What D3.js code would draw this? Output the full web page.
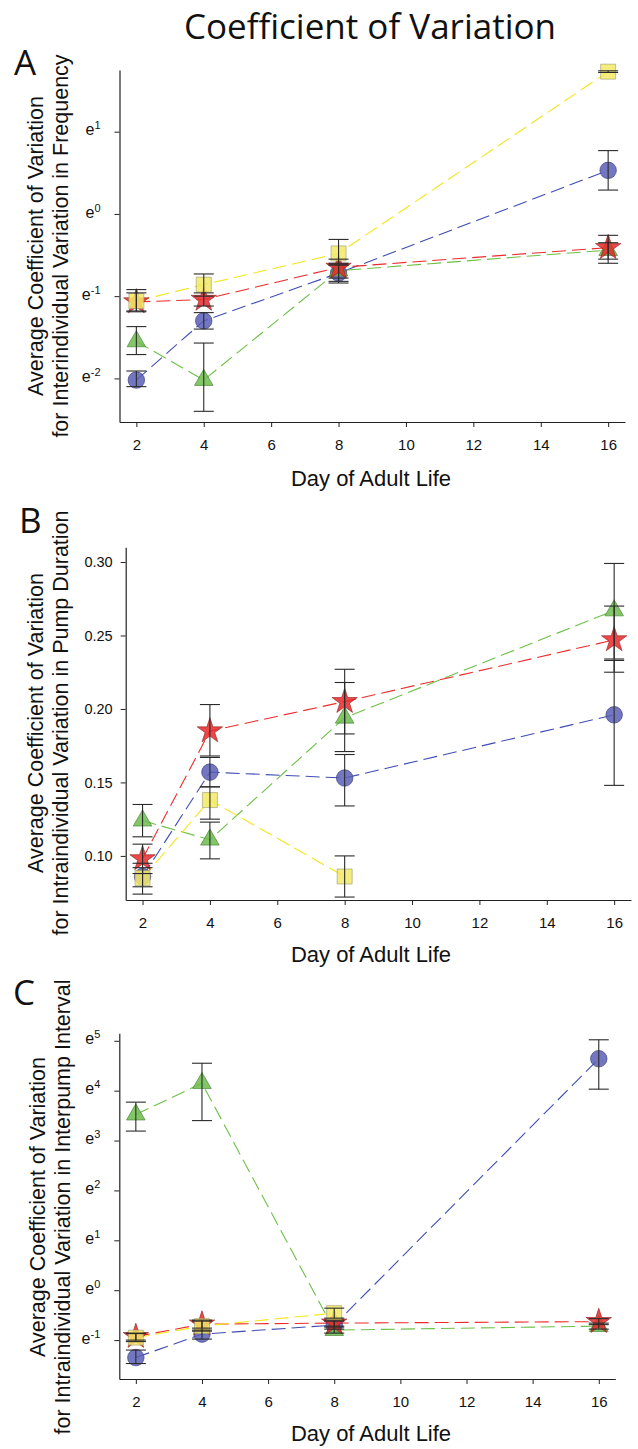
<!DOCTYPE html>
<html><head><meta charset="utf-8">
<script src="https://cdn.jsdelivr.net/npm/d3@7"></script>
<style>body{margin:0;background:#fff}svg{display:block}</style>
</head><body>
<svg id="chart" width="638" height="1449"></svg>
<script>
// ---------- DATA ----------
const days = [2, 4, 8, 16];
const xTicks = [2, 4, 6, 8, 10, 12, 14, 16];

// Panel A: ln(average CV) of interindividual variation in frequency
const aTickExp = [-2, -1, 0, 1];
const aBlue = [-2.02, -1.30, -0.72, 0.53];
const aBlueLo = [-2.10, -1.40, -0.84, 0.29];
const aBlueHi = [-1.91, -1.20, -0.62, 0.77];
const aGreen = [-1.55, -2.02, -0.69, -0.44];
const aGreenLo = [-1.71, -2.40, -0.82, -0.55];
const aGreenHi = [-1.37, -1.57, -0.60, -0.35];
const aRed = [-1.07, -1.04, -0.65, -0.41];
const aRedLo = [-1.18, -1.12, -0.78, -0.60];
const aRedHi = [-0.96, -0.96, -0.55, -0.26];
const aYellow = [-1.06, -0.86, -0.48, 1.73];
const aYellowLo = [-1.19, -1.00, -0.62, 1.72];
const aYellowHi = [-0.92, -0.73, -0.31, 1.74];

// Panel B: average CV of intraindividual variation in pump duration
const bTicks = [0.10, 0.15, 0.20, 0.25, 0.30];
const bBlue = [0.086, 0.157, 0.153, 0.196];
const bBlueLo = [0.079, 0.147, 0.134, 0.148];
const bBlueHi = [0.092, 0.167, 0.169, 0.233];
const bGreen = [0.124, 0.111, 0.194, 0.267];
const bGreenLo = [0.113, 0.098, 0.171, 0.234];
const bGreenHi = [0.135, 0.123, 0.218, 0.299];
const bRed = [0.098, 0.185, 0.205, 0.247];
const bRedLo = [0.088, 0.168, 0.183, 0.225];
const bRedHi = [0.108, 0.203, 0.227, 0.270];
const bYellow = [0.085, 0.138, 0.086];
const bYellowLo = [0.074, 0.125, 0.072];
const bYellowHi = [0.095, 0.147, 0.100];

// Panel C: ln(average CV) of intraindividual variation in interpump interval
const cTickExp = [-1, 0, 1, 2, 3, 4, 5];
const cBlue = [-1.35, -0.88, -0.70, 4.64];
const cBlueLo = [-1.47, -0.98, -0.78, 4.03];
const cBlueHi = [-1.20, -0.80, -0.62, 5.02];
const cGreen = [3.52, 4.15, -0.80, -0.72];
const cGreenLo = [3.19, 3.40, -0.86, -0.78];
const cGreenHi = [3.77, 4.55, -0.74, -0.66];
const cRed = [-0.93, -0.68, -0.66, -0.63];
const cRedLo = [-1.00, -0.76, -0.72, -0.69];
const cRedHi = [-0.86, -0.60, -0.60, -0.57];
const cYellow = [-0.95, -0.72, -0.46];
const cYellowLo = [-1.03, -0.82, -0.56];
const cYellowHi = [-0.87, -0.62, -0.36];

// ---------- STYLE ----------
const styles = {
  blue:   {line: "#3f4db3", fill: "#5a5eb5", stroke: "#33377a", shape: d3.symbolCircle, size: 215},
  green:  {line: "#6cc046", fill: "#6cbc4c", stroke: "#3c7d2c", shape: d3.symbolTriangle, size: 150},
  red:    {line: "#ee2b2b", fill: "#e8282a", stroke: "#8e1c1c", shape: d3.symbolStar, size: 200},
  yellow: {line: "#f3e61a", fill: "#f2ea66", stroke: "#9c9a6a", shape: d3.symbolSquare, size: 225}
};

const svg = d3.select("#chart");
const font = "'Liberation Sans', Arial, sans-serif";

svg.append("text").attr("x", 370).attr("y", 39).attr("text-anchor", "middle")
  .attr("font-family", "'Open Sans', 'Noto Sans', sans-serif").attr("font-size", 35)
  .attr("fill", "#111").text("Coefficient of Variation");

function panel(cfg) {
  const g = svg.append("g");
  const x = d3.scaleLinear().domain([1.5, 16.5]).range([cfg.left, cfg.right]);
  const y = d3.scaleLinear().domain(cfg.yDomain).range([cfg.bottom, cfg.top]);

  // axes
  const xa = g.append("g").attr("transform", `translate(0,${cfg.bottom})`)
    .call(d3.axisBottom(x).tickValues(xTicks).tickSize(5).tickSizeOuter(0).tickPadding(12));
  xa.selectAll("text").attr("font-family", font).attr("font-size", 15).attr("fill", "#111");
  const ya = g.append("g").attr("transform", `translate(${cfg.left},0)`)
    .call(d3.axisLeft(y).tickValues(cfg.yTicks).tickSize(5).tickSizeOuter(0).tickPadding(8)
      .tickFormat(cfg.exp ? () => "" : d3.format(".2f")));
  ya.selectAll("text").attr("font-family", font).attr("font-size", 14.5).attr("fill", "#111");
  [xa, ya].forEach(a => { a.select(".domain").attr("stroke", "#222").attr("stroke-width", 1.2);
                         a.selectAll(".tick line").attr("stroke", "#222"); });
  if (cfg.exp) {
    ya.selectAll(".tick").each(function(d) {
      const t = d3.select(this).append("text").attr("x", -19).attr("dy", "0.32em")
        .attr("text-anchor", "end").attr("font-family", font).attr("fill", "#111");
      t.append("tspan").attr("font-size", 16).text("e");
      t.append("tspan").attr("font-size", 11).attr("dy", "-0.55em").text(d);
    });
  }

  // labels
  g.append("text").attr("x", cfg.letterX).attr("y", cfg.letterY)
    .attr("font-family", "'Open Sans', 'Noto Sans', sans-serif").attr("font-size", 35).attr("fill", "#111").text(cfg.letter);
  g.append("text").attr("x", 371).attr("y", cfg.xLabelY).attr("text-anchor", "middle")
    .attr("font-family", font).attr("font-size", 22).attr("fill", "#111").text("Day of Adult Life");
  const lab = g.append("text").attr("transform", `translate(${cfg.yLabX},${cfg.yLabCY}) rotate(-90)`)
    .attr("text-anchor", "middle").attr("font-family", font).attr("font-size", 21.5).attr("fill", "#111");
  lab.append("tspan").attr("x", 0).attr("y", 0).text("Average Coefficient of Variation");
  lab.append("tspan").attr("x", 0).attr("y", 25).text(cfg.yLabel2);

  const rows = cfg.series.map(s => ({
    key: s.key,
    pts: s.mean.map((v, i) => ({d: days[i], v, lo: s.lo[i], hi: s.hi[i]}))
  }));
  const line = d3.line().x(p => x(p.d)).y(p => y(p.v));

  rows.forEach(r => {
    g.append("path").attr("d", line(r.pts)).attr("fill", "none")
      .attr("stroke", styles[r.key].line).attr("stroke-width", 1.1).attr("stroke-dasharray", "14,6");
  });
  rows.forEach(r => {
    const st = styles[r.key];
    g.selectAll(null).data(r.pts).enter().append("path")
      .attr("transform", p => `translate(${x(p.d)},${y(p.v)})`)
      .attr("d", d3.symbol().type(st.shape).size(st.size))
      .attr("fill", st.fill).attr("fill-opacity", 0.85)
      .attr("stroke", st.stroke).attr("stroke-opacity", 0.6).attr("stroke-width", 1);
  });
  rows.forEach(r => {
    const eb = g.selectAll(null).data(r.pts).enter().append("g").attr("stroke", "#2a2a2a").attr("stroke-width", 1.1);
    eb.append("line").attr("x1", p => x(p.d)).attr("x2", p => x(p.d)).attr("y1", p => y(p.lo)).attr("y2", p => y(p.hi));
    eb.append("line").attr("x1", p => x(p.d) - 10).attr("x2", p => x(p.d) + 10).attr("y1", p => y(p.lo)).attr("y2", p => y(p.lo));
    eb.append("line").attr("x1", p => x(p.d) - 10).attr("x2", p => x(p.d) + 10).attr("y1", p => y(p.hi)).attr("y2", p => y(p.hi));
  });
}

panel({
  left: 119.5, right: 625, top: 70, bottom: 422, yDomain: [-2.53, 1.75], yTicks: aTickExp, exp: true,
  letter: "A", letterX: 14, letterY: 75, xLabelY: 486, yLabX: 43, yLabCY: 246,
  yLabel2: "for Interindividual Variation in Frequency",
  series: [
    {key: "blue", mean: aBlue, lo: aBlueLo, hi: aBlueHi},
    {key: "green", mean: aGreen, lo: aGreenLo, hi: aGreenHi},
    {key: "red", mean: aRed, lo: aRedLo, hi: aRedHi},
    {key: "yellow", mean: aYellow, lo: aYellowLo, hi: aYellowHi}
  ]
});

panel({
  left: 125.7, right: 631, top: 547.3, bottom: 900, yDomain: [0.07, 0.31], yTicks: bTicks, exp: false,
  letter: "B", letterX: 19, letterY: 533, xLabelY: 962, yLabX: 43, yLabCY: 723,
  yLabel2: "for Intraindividual Variation in Pump Duration",
  series: [
    {key: "blue", mean: bBlue, lo: bBlueLo, hi: bBlueHi},
    {key: "green", mean: bGreen, lo: bGreenLo, hi: bGreenHi},
    {key: "red", mean: bRed, lo: bRedLo, hi: bRedHi},
    {key: "yellow", mean: bYellow, lo: bYellowLo, hi: bYellowHi}
  ]
});

panel({
  left: 119.3, right: 615.3, top: 1033.3, bottom: 1379, yDomain: [-1.78, 5.15], yTicks: cTickExp, exp: true,
  letter: "C", letterX: 13, letterY: 1005, xLabelY: 1441, yLabX: 45, yLabCY: 1207,
  yLabel2: "for Intraindividual Variation in Interpump Interval",
  series: [
    {key: "blue", mean: cBlue, lo: cBlueLo, hi: cBlueHi},
    {key: "green", mean: cGreen, lo: cGreenLo, hi: cGreenHi},
    {key: "red", mean: cRed, lo: cRedLo, hi: cRedHi},
    {key: "yellow", mean: cYellow, lo: cYellowLo, hi: cYellowHi}
  ]
});
</script>
</body></html>
